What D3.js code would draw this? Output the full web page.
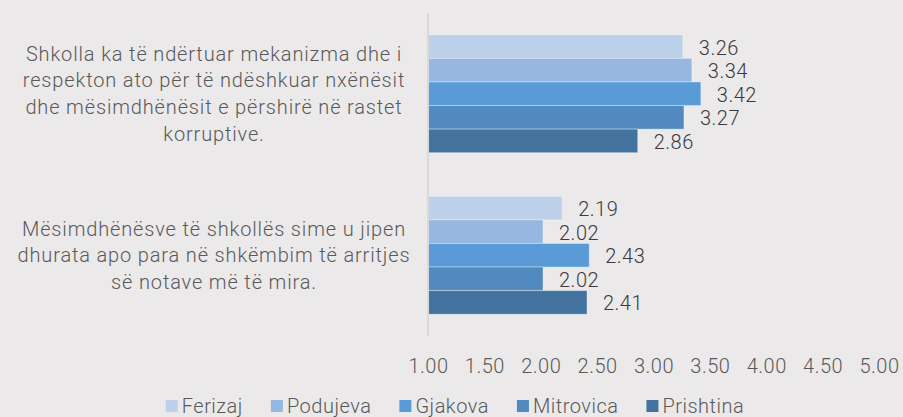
<!DOCTYPE html>
<meta charset="utf-8">
<html>
<script src="https://d3js.org/d3.v7.min.js"></script>
<style>
    body { margin: 0; background: #ebe9ea; }
    svg { display: block; font-family: Roboto, sans-serif; font-weight: 300; letter-spacing: 0.5px; }
</style>
<body>
<div id="chart"></div>
<script>
    // data
    var categories = [
        ["Shkolla ka të ndërtuar mekanizma dhe i", "respekton ato për të ndëshkuar nxënësit", "dhe mësimdhënësit e përshirë në rastet", "korruptive."],
        ["Mësimdhënësve të shkollës sime u jipen", "dhurata apo para  në shkëmbim të arritjes", "së notave më të mira."]
    ];
    var seriesNames = ["Ferizaj", "Podujeva", "Gjakova", "Mitrovica", "Prishtina"];
    var ferizaj = [3.26, 2.19];
    var podujeva = [3.34, 2.02];
    var gjakova = [3.42, 2.43];
    var mitrovica = [3.27, 2.02];
    var prishtina = [2.86, 2.41];
    var tickValues = [1.00, 1.50, 2.00, 2.50, 3.00, 3.50, 4.00, 4.50, 5.00];

    var colors = ["#bdd0ea", "#96b8e0", "#5a9bd7", "#508abe", "#42729d"];
    var seriesValues = [ferizaj, podujeva, gjakova, mitrovica, prishtina];

    var width = 903, height = 417;
    var svg = d3.select("#chart").append("svg")
        .attr("width", width)
        .attr("height", height);

    // scales
    var x = d3.scaleLinear().domain([1, 5]).range([428, 879]);
    var y0 = d3.scaleBand().domain(d3.range(categories.length)).range([13, 336]);
    var bw = y0.bandwidth();
    var y1 = d3.scaleBand().domain(seriesNames).range([bw * 0.135, bw * 0.865]);
    var color = d3.scaleOrdinal().domain(seriesNames).range(colors);

    var rows = [];
    categories.forEach(function (c, i) {
        seriesNames.forEach(function (s, j) {
            rows.push({ cat: i, name: s, value: seriesValues[j][i] });
        });
    });

    // bars
    svg.append("g").selectAll("rect")
        .data(rows).enter().append("rect")
        .attr("x", x(1))
        .attr("y", function (d) { return y0(d.cat) + y1(d.name); })
        .attr("width", function (d) { return x(d.value) - x(1); })
        .attr("height", y1.bandwidth())
        .attr("fill", function (d) { return color(d.name); })
        .attr("stroke", "rgba(255,255,255,0.35)")
        .attr("stroke-width", 1);

    // value labels
    svg.append("g").selectAll("text")
        .data(rows).enter().append("text")
        .attr("x", function (d) { return x(d.value) + 16; })
        .attr("y", function (d) { return y0(d.cat) + y1(d.name) + y1.bandwidth() / 2 + 1; })
        .attr("dy", "0.35em")
        .attr("fill", "#3a3a3a")
        .style("font-size", "20px")
        .text(function (d) { return d3.format(".2f")(d.value); });

    // vertical axis line
    svg.append("line")
        .attr("x1", x(1)).attr("x2", x(1))
        .attr("y1", 13).attr("y2", 336)
        .attr("stroke", "#d9d9d9")
        .attr("stroke-width", 2);

    // category labels
    var lineH = 26.7;
    categories.forEach(function (lines, i) {
        var cy = y0(i) + bw / 2;
        var t = svg.append("text")
            .attr("text-anchor", "middle")
            .attr("fill", "#595959")
            .style("font-size", "20px")
            .style("letter-spacing", "0.85px");
        lines.forEach(function (l, k) {
            t.append("tspan")
                .attr("x", 214)
                .attr("y", cy + (k - (lines.length - 1) / 2) * lineH)
                .attr("dy", "0.35em")
                .text(l);
        });
    });

    // x axis tick labels
    var xAxis = d3.axisBottom(x)
        .tickValues(tickValues)
        .tickFormat(d3.format(".2f"))
        .tickSize(0)
        .tickPadding(0);
    var gx = svg.append("g")
        .attr("transform", "translate(0,359)")
        .call(xAxis);
    gx.select(".domain").remove();
    gx.selectAll("text")
        .attr("fill", "#595959")
        .style("font-size", "20px")
        .style("font-family", "Roboto, sans-serif");

    // legend
    var legend = svg.append("g");
    var lx = 0, gap = 28;
    seriesNames.forEach(function (s) {
        var item = legend.append("g").attr("transform", "translate(" + lx + ",0)");
        item.append("rect")
            .attr("x", 0).attr("y", 400)
            .attr("width", 12).attr("height", 12)
            .attr("fill", color(s));
        var txt = item.append("text")
            .attr("x", 16).attr("y", 406)
            .attr("dy", "0.35em")
            .attr("fill", "#595959")
            .style("font-size", "20px")
            .text(s);
        lx += 16 + txt.node().getComputedTextLength() + gap;
    });
    var legendW = lx - gap;
    legend.attr("transform", "translate(" + (455 - legendW / 2) + ",0)");
</script>
</body>
</html>
